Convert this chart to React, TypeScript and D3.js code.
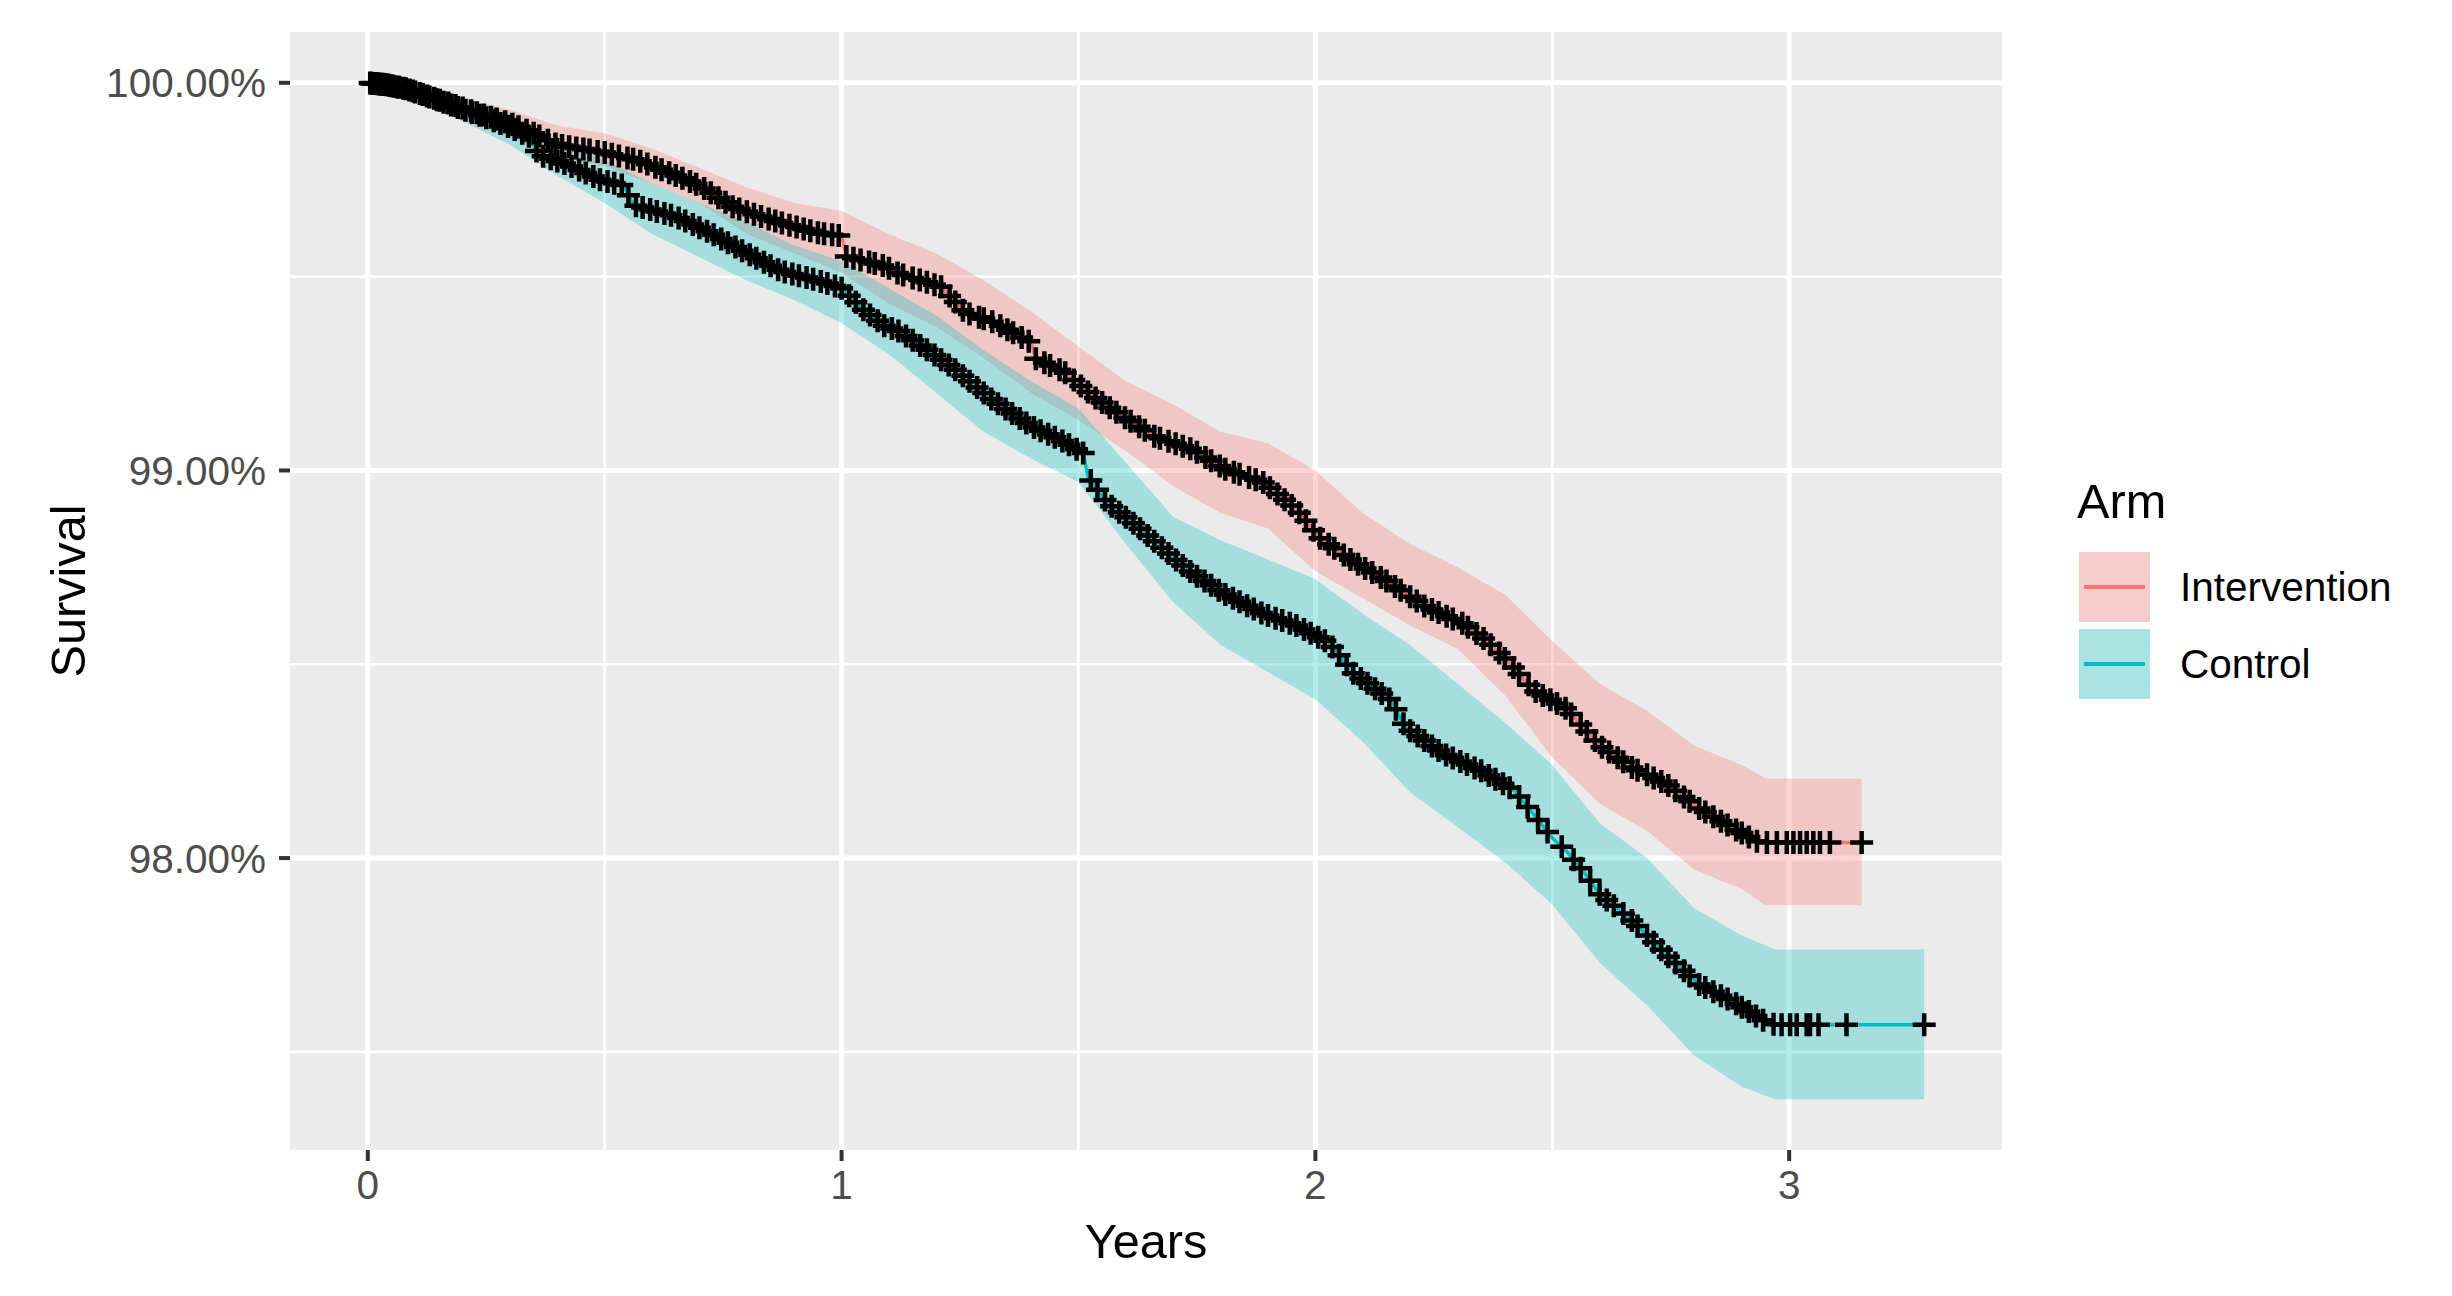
import { area, line, max, min, scaleLinear } from 'd3'

// Kaplan-Meier survival (%), per arm
const interventionTimes = [
  0, 0.04, 0.08, 0.12, 0.16, 0.2, 0.25, 0.3, 0.35, 0.4, 0.45, 0.5, 0.57, 0.63, 0.7, 0.77, 0.83,
  0.88, 0.95, 1.0, 1.01, 1.09, 1.12, 1.21, 1.26, 1.32, 1.4, 1.41, 1.47, 1.53, 1.58, 1.66, 1.74,
  1.81, 1.89, 1.96, 2.01, 2.08, 2.15, 2.23, 2.31, 2.36, 2.41, 2.46, 2.53, 2.6, 2.67, 2.74, 2.81,
  2.88, 2.93, 2.95, 3.153,
]
const interventionSurvival = [
  100, 99.995, 99.985, 99.968, 99.952, 99.935, 99.915, 99.896, 99.87, 99.84, 99.83, 99.82,
  99.8, 99.771, 99.735, 99.68, 99.655, 99.636, 99.613, 99.605, 99.552, 99.528, 99.508, 99.474,
  99.408, 99.383, 99.33, 99.288, 99.254, 99.192, 99.15, 99.088, 99.054, 99.003, 98.969, 98.9,
  98.825, 98.765, 98.715, 98.65, 98.606, 98.562, 98.503, 98.433, 98.385, 98.29, 98.232, 98.192,
  98.128, 98.078, 98.044, 98.04, 98.04,
]

const controlTimes = [
  0, 0.04, 0.08, 0.12, 0.16, 0.2, 0.25, 0.3, 0.34, 0.36, 0.42, 0.49, 0.54, 0.56, 0.65, 0.72, 0.8,
  0.87, 0.95, 1.0, 1.05, 1.09, 1.12, 1.19, 1.24, 1.32, 1.4, 1.46, 1.51, 1.52, 1.56, 1.62, 1.7,
  1.74, 1.81, 1.89, 1.96, 2.03, 2.08, 2.16, 2.19, 2.27, 2.35, 2.42, 2.46, 2.5, 2.53, 2.57, 2.6,
  2.67, 2.74, 2.81, 2.88, 2.95, 2.97, 3.285,
]
const controlSurvival = [
  100, 99.995, 99.985, 99.968, 99.95, 99.932, 99.91, 99.885, 99.862, 99.815, 99.79, 99.75,
  99.735, 99.685, 99.655, 99.615, 99.56, 99.515, 99.49, 99.47, 99.41, 99.373, 99.36, 99.303,
  99.26, 99.18, 99.114, 99.08, 99.045, 98.984, 98.917, 98.86, 98.775, 98.735, 98.68, 98.63,
  98.6, 98.554, 98.477, 98.407, 98.337, 98.269, 98.225, 98.174, 98.114, 98.052, 98.018, 97.959,
  97.907, 97.837, 97.751, 97.674, 97.63, 97.578, 97.57, 97.57,
]

// 95% confidence bands
const interventionBandTimes = [
  0, 0.1, 0.2, 0.3, 0.4, 0.5, 0.6, 0.7, 0.8, 0.9, 1.0, 1.1, 1.2, 1.3, 1.4, 1.5, 1.6, 1.7, 1.8,
  1.9, 2.0, 2.1, 2.2, 2.3, 2.4, 2.5, 2.6, 2.7, 2.8, 2.9, 2.95, 3.153,
]
const interventionLower = [
  100, 99.965, 99.91, 99.86, 99.81, 99.785, 99.74, 99.69, 99.61, 99.56, 99.51, 99.43, 99.37,
  99.29, 99.2, 99.13, 99.05, 98.96, 98.89, 98.85, 98.74, 98.67, 98.6, 98.54, 98.42, 98.26,
  98.14, 98.07, 97.97, 97.92, 97.878, 97.878,
]
const interventionUpper = [
  100, 100, 99.96, 99.93, 99.89, 99.87, 99.83, 99.78, 99.73, 99.69, 99.67, 99.61, 99.56, 99.49,
  99.41, 99.32, 99.23, 99.17, 99.1, 99.07, 99.0, 98.89, 98.81, 98.75, 98.68, 98.56, 98.45,
  98.38, 98.29, 98.24, 98.205, 98.205,
]

const controlBandTimes = [
  0, 0.1, 0.2, 0.3, 0.4, 0.5, 0.6, 0.7, 0.8, 0.9, 1.0, 1.1, 1.2, 1.3, 1.4, 1.5, 1.6, 1.7, 1.8,
  1.9, 2.0, 2.1, 2.2, 2.3, 2.4, 2.5, 2.6, 2.7, 2.8, 2.9, 2.97, 3.285,
]
const controlLower = [
  100, 99.96, 99.9, 99.84, 99.76, 99.69, 99.61, 99.55, 99.49, 99.44, 99.38, 99.3, 99.2, 99.1,
  99.03, 98.97, 98.81, 98.66, 98.55, 98.48, 98.41, 98.3, 98.17, 98.08, 97.99, 97.88, 97.73,
  97.62, 97.49, 97.41, 97.378, 97.378,
]
const controlUpper = [
  100, 100, 99.96, 99.92, 99.85, 99.8, 99.74, 99.69, 99.64, 99.58, 99.54, 99.47, 99.4, 99.31,
  99.23, 99.16, 99.02, 98.88, 98.82, 98.77, 98.72, 98.63, 98.55, 98.45, 98.35, 98.24, 98.09,
  98.0, 97.87, 97.8, 97.764, 97.764,
]

// censoring times (years)
const interventionCensored = [
  0.005, 0.012, 0.02, 0.028, 0.035, 0.045, 0.055, 0.066, 0.08, 0.095, 0.11, 0.125, 0.14, 0.152,
  0.17, 0.185, 0.2, 0.218, 0.23, 0.245, 0.26, 0.272, 0.29, 0.305, 0.318, 0.335, 0.35, 0.362,
  0.38, 0.396, 0.41, 0.425, 0.44, 0.455, 0.468, 0.485, 0.5, 0.515, 0.53, 0.548, 0.56, 0.575,
  0.59, 0.607, 0.62, 0.636, 0.65, 0.664, 0.68, 0.693, 0.71, 0.724, 0.74, 0.755, 0.77, 0.784,
  0.8, 0.815, 0.83, 0.846, 0.86, 0.874, 0.89, 0.905, 0.92, 0.934, 0.95, 0.963, 0.98, 0.994,
  1.01, 1.025, 1.04, 1.058, 1.07, 1.087, 1.1, 1.118, 1.13, 1.15, 1.165, 1.18, 1.196, 1.21,
  1.228, 1.24, 1.256, 1.27, 1.29, 1.3, 1.318, 1.335, 1.35, 1.362, 1.38, 1.395, 1.41, 1.428,
  1.44, 1.46, 1.472, 1.49, 1.505, 1.52, 1.536, 1.55, 1.566, 1.58, 1.598, 1.61, 1.628, 1.64,
  1.66, 1.672, 1.69, 1.705, 1.72, 1.736, 1.75, 1.768, 1.78, 1.798, 1.81, 1.828, 1.84, 1.86,
  1.874, 1.89, 1.904, 1.92, 1.935, 1.95, 1.966, 1.98, 1.996, 2.01, 2.028, 2.04, 2.06, 2.074,
  2.09, 2.105, 2.12, 2.138, 2.15, 2.168, 2.18, 2.2, 2.214, 2.23, 2.246, 2.26, 2.277, 2.29, 2.31,
  2.322, 2.34, 2.355, 2.37, 2.388, 2.4, 2.418, 2.43, 2.45, 2.465, 2.48, 2.496, 2.51, 2.528,
  2.54, 2.56, 2.573, 2.59, 2.605, 2.62, 2.638, 2.65, 2.668, 2.68, 2.7, 2.714, 2.73, 2.745, 2.76,
  2.778, 2.79, 2.81, 2.823, 2.84, 2.856, 2.87, 2.888, 2.9, 2.915, 2.932, 2.953, 2.974, 2.995,
  3.009, 3.023, 3.037, 3.051, 3.065, 3.086, 3.153,
]
const controlCensored = [
  0.008, 0.016, 0.024, 0.032, 0.04, 0.05, 0.062, 0.075, 0.088, 0.1, 0.116, 0.13, 0.146, 0.16,
  0.176, 0.19, 0.206, 0.22, 0.236, 0.25, 0.266, 0.28, 0.296, 0.31, 0.326, 0.34, 0.356, 0.37,
  0.386, 0.4, 0.415, 0.43, 0.446, 0.46, 0.476, 0.49, 0.506, 0.52, 0.536, 0.55, 0.566, 0.58,
  0.596, 0.61, 0.626, 0.64, 0.656, 0.67, 0.686, 0.7, 0.716, 0.73, 0.746, 0.76, 0.776, 0.79,
  0.806, 0.82, 0.836, 0.85, 0.866, 0.88, 0.896, 0.91, 0.926, 0.94, 0.956, 0.97, 0.986, 1.0,
  1.016, 1.03, 1.046, 1.06, 1.076, 1.09, 1.106, 1.12, 1.136, 1.15, 1.166, 1.18, 1.196, 1.21,
  1.226, 1.24, 1.256, 1.27, 1.286, 1.3, 1.316, 1.33, 1.346, 1.36, 1.376, 1.39, 1.406, 1.42,
  1.436, 1.45, 1.466, 1.48, 1.496, 1.51, 1.526, 1.54, 1.556, 1.57, 1.586, 1.6, 1.616, 1.63,
  1.646, 1.66, 1.676, 1.69, 1.706, 1.72, 1.736, 1.75, 1.766, 1.78, 1.796, 1.81, 1.826, 1.84,
  1.856, 1.87, 1.886, 1.9, 1.916, 1.93, 1.946, 1.96, 1.976, 1.99, 2.006, 2.02, 2.036, 2.05,
  2.066, 2.08, 2.096, 2.11, 2.126, 2.14, 2.156, 2.17, 2.186, 2.2, 2.216, 2.23, 2.246, 2.26,
  2.276, 2.29, 2.306, 2.32, 2.336, 2.35, 2.366, 2.38, 2.396, 2.41, 2.43, 2.448, 2.47, 2.49,
  2.52, 2.545, 2.56, 2.58, 2.6, 2.615, 2.63, 2.65, 2.668, 2.68, 2.7, 2.714, 2.73, 2.745, 2.76,
  2.778, 2.79, 2.81, 2.823, 2.84, 2.856, 2.87, 2.888, 2.9, 2.915, 2.93, 2.945, 2.967, 2.984,
  3.002, 3.016, 3.037, 3.044, 3.062, 3.121, 3.285,
]

const armNames = ['Intervention', 'Control']
const armColors = ['#F8766D', '#00BFC4']
const xTicks = [0, 1, 2, 3]
const xMinorTicks = [0.5, 1.5, 2.5]
const yTicks = [100, 99, 98]
const yTickLabels = ['100.00%', '99.00%', '98.00%']
const yMinorTicks = [99.5, 98.5, 97.5]

const width = 2452
const height = 1296
const panel = { left: 290, right: 2002, top: 32, bottom: 1150 }
const font = '"Liberation Sans", Arial, Helvetica, sans-serif'
const markHalf = 11.5

const arms = [
  {
    name: armNames[0],
    color: armColors[0],
    times: interventionTimes,
    survival: interventionSurvival,
    bandTimes: interventionBandTimes,
    lower: interventionLower,
    upper: interventionUpper,
    censored: interventionCensored,
  },
  {
    name: armNames[1],
    color: armColors[1],
    times: controlTimes,
    survival: controlSurvival,
    bandTimes: controlBandTimes,
    lower: controlLower,
    upper: controlUpper,
    censored: controlCensored,
  },
]

function App() {
  const tMax = max(arms, (a) => max(a.times) ?? 0) ?? 0
  const sMin = min(arms, (a) => min(a.lower) ?? 100) ?? 100
  const sMax = 100
  const xPad = tMax * 0.05
  const yPad = (sMax - sMin) * 0.05

  const xScale = scaleLinear()
    .domain([0 - xPad, tMax + xPad])
    .range([panel.left, panel.right])
  const yScale = scaleLinear()
    .domain([sMin - yPad, sMax + yPad])
    .range([panel.bottom, panel.top])

  const survLine = line<[number, number]>()
    .x((d) => xScale(d[0]))
    .y((d) => yScale(d[1]))

  const bandArea = area<[number, number, number]>()
    .x((d) => xScale(d[0]))
    .y0((d) => yScale(d[1]))
    .y1((d) => yScale(d[2]))

  const panelW = panel.right - panel.left
  const panelH = panel.bottom - panel.top

  return (
    <>
      <style>{'body{margin:0}'}</style>
      <svg width={width} height={height} style={{ display: 'block', background: '#fff' }}>
        <rect x={panel.left} y={panel.top} width={panelW} height={panelH} fill="#EBEBEB" />

        {xMinorTicks.map((t) => (
          <line
            key={`xm-${t}`}
            x1={xScale(t)}
            x2={xScale(t)}
            y1={panel.top}
            y2={panel.bottom}
            stroke="#fff"
            strokeWidth={2.6}
          />
        ))}
        {yMinorTicks.map((s) => (
          <line
            key={`ym-${s}`}
            x1={panel.left}
            x2={panel.right}
            y1={yScale(s)}
            y2={yScale(s)}
            stroke="#fff"
            strokeWidth={2.6}
          />
        ))}
        {xTicks.map((t) => (
          <line
            key={`x-${t}`}
            x1={xScale(t)}
            x2={xScale(t)}
            y1={panel.top}
            y2={panel.bottom}
            stroke="#fff"
            strokeWidth={5}
          />
        ))}
        {yTicks.map((s) => (
          <line
            key={`y-${s}`}
            x1={panel.left}
            x2={panel.right}
            y1={yScale(s)}
            y2={yScale(s)}
            stroke="#fff"
            strokeWidth={5}
          />
        ))}

        {arms.map((arm) => (
          <path
            key={`band-${arm.name}`}
            d={
              bandArea(
                arm.bandTimes.map((t, i) => [t, arm.lower[i], arm.upper[i]] as [number, number, number]),
              ) ?? ''
            }
            fill={arm.color}
            fillOpacity={0.3}
          />
        ))}

        {arms.map((arm) => (
          <path
            key={`line-${arm.name}`}
            d={survLine(arm.times.map((t, i) => [t, arm.survival[i]] as [number, number])) ?? ''}
            fill="none"
            stroke={arm.color}
            strokeWidth={3.5}
          />
        ))}

        {arms.map((arm) => {
          const survAt = scaleLinear().domain(arm.times).range(arm.survival).clamp(true)
          return (
            <g key={`cens-${arm.name}`} stroke="#000" strokeWidth={4.5} fill="none">
              {arm.censored.map((t, i) => {
                const cx = xScale(t)
                const cy = yScale(survAt(t))
                return (
                  <path
                    key={i}
                    d={`M${cx - markHalf},${cy}H${cx + markHalf}M${cx},${cy - markHalf}V${cy + markHalf}`}
                  />
                )
              })}
            </g>
          )
        })}

        {/* x axis */}
        {xTicks.map((t) => (
          <g key={`xt-${t}`}>
            <line
              x1={xScale(t)}
              x2={xScale(t)}
              y1={panel.bottom}
              y2={panel.bottom + 11}
              stroke="#333333"
              strokeWidth={4}
            />
            <text
              x={xScale(t)}
              y={panel.bottom + 49}
              textAnchor="middle"
              fontFamily={font}
              fontSize={40.5}
              fill="#4D4D4D"
            >
              {t}
            </text>
          </g>
        ))}
        <text
          x={(panel.left + panel.right) / 2}
          y={1258}
          textAnchor="middle"
          fontFamily={font}
          fontSize={48.7}
          fill="#000"
        >
          Years
        </text>

        {/* y axis */}
        {yTicks.map((s, i) => (
          <g key={`yt-${s}`}>
            <line
              x1={panel.left - 11}
              x2={panel.left}
              y1={yScale(s)}
              y2={yScale(s)}
              stroke="#333333"
              strokeWidth={4}
            />
            <text
              x={panel.left - 24}
              y={yScale(s)}
              dy="0.36em"
              textAnchor="end"
              fontFamily={font}
              fontSize={40.5}
              fill="#4D4D4D"
            >
              {yTickLabels[i]}
            </text>
          </g>
        ))}
        <text
          transform={`translate(85, ${(panel.top + panel.bottom) / 2}) rotate(-90)`}
          textAnchor="middle"
          fontFamily={font}
          fontSize={48.7}
          fill="#000"
        >
          Survival
        </text>

        {/* legend */}
        <text x={2077} y={518} fontFamily={font} fontSize={48.7} fill="#000">
          Arm
        </text>
        {arms.map((arm, i) => {
          const top = 552 + i * 77
          return (
            <g key={`leg-${arm.name}`}>
              <rect x={2079} y={top} width={71} height={70} fill="#F2F2F2" />
              <rect x={2079} y={top} width={71} height={70} fill={arm.color} fillOpacity={0.3} />
              <line
                x1={2084}
                x2={2145}
                y1={top + 35}
                y2={top + 35}
                stroke={arm.color}
                strokeWidth={4}
              />
              <text x={2180} y={top + 49} fontFamily={font} fontSize={40.5} fill="#000">
                {arm.name}
              </text>
            </g>
          )
        })}
      </svg>
    </>
  )
}

export default App
